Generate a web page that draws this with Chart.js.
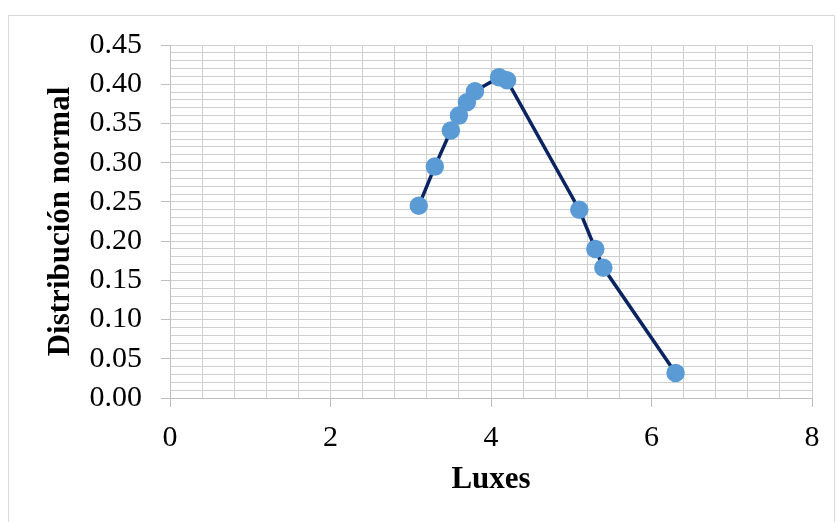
<!DOCTYPE html>
<html>
<head>
<meta charset="utf-8">
<script src="https://cdn.jsdelivr.net/npm/chart.js@4/dist/chart.umd.min.js"></script>
<style>
  html, body { margin: 0; padding: 0; background: #ffffff; }
  #wrap { width: 837px; height: 522px; position: relative; }
</style>
</head>
<body>
<div id="wrap"><canvas id="c" width="837" height="522"></canvas></div>
<script>
// Data
const luxes = [3.1, 3.3, 3.5, 3.6, 3.7, 3.8, 4.1, 4.2, 5.1, 5.3, 5.4, 6.3];
const distribucion = [0.245, 0.295, 0.341, 0.360, 0.377, 0.391, 0.409, 0.405, 0.240, 0.190, 0.166, 0.032];
const xTickLabels = ['0', '2', '4', '6', '8'];
const yTickLabels = ['0.00', '0.05', '0.10', '0.15', '0.20', '0.25', '0.30', '0.35', '0.40', '0.45'];

const points = luxes.map((x, i) => ({ x: x, y: distribucion[i] }));

function isMultiple(v, m) {
  const r = v / m;
  return Math.abs(r - Math.round(r)) < 1e-6;
}

const outerBorder = {
  id: 'outerBorder',
  beforeDraw(chart) {
    const ctx = chart.ctx;
    ctx.save();
    ctx.fillStyle = '#ffffff';
    ctx.fillRect(0, 0, chart.width, chart.height);
    ctx.strokeStyle = '#d9d9d9';
    ctx.lineWidth = 1;
    ctx.strokeRect(8.5, 15.5, 826, 520);
    ctx.restore();
  }
};

const serif = '"Liberation Serif", "Times New Roman", serif';

new Chart(document.getElementById('c'), {
  type: 'scatter',
  data: {
    datasets: [{
      data: points,
      showLine: true,
      borderColor: '#0a2461',
      borderWidth: 3.5,
      pointBackgroundColor: '#5b9bd5',
      pointBorderColor: '#5b9bd5',
      pointRadius: 7.5,
      pointHoverRadius: 7.5,
      tension: 0
    }]
  },
  options: {
    responsive: false,
    animation: false,
    devicePixelRatio: 1,
    layout: { padding: { left: 0, top: 45, right: 25, bottom: 19 } },
    plugins: { legend: { display: false }, tooltip: { enabled: false } },
    scales: {
      x: {
        type: 'linear',
        min: 0,
        max: 8,
        afterFit(scale) { scale.height = 105; },
        border: { color: '#bfbfbf', width: 1 },
        grid: {
          color: '#cfcfcf',
          lineWidth: 1,
          tickLength: 9,
          tickColor: (c) => isMultiple(c.tick.value, 2) ? '#bfbfbf' : 'rgba(0,0,0,0)'
        },
        ticks: {
          stepSize: 0.4,
          autoSkip: false,
          maxRotation: 0,
          padding: 13,
          color: '#000000',
          font: { family: serif, size: 30 },
          callback: (v) => isMultiple(v, 2) ? xTickLabels[Math.round(v / 2)] : ''
        },
        title: {
          display: true,
          text: 'Luxes',
          color: '#000000',
          font: { family: serif, size: 31, weight: 'bold' },
          padding: { top: 4, bottom: 4 }
        }
      },
      y: {
        type: 'linear',
        min: 0,
        max: 0.45,
        afterFit(scale) { scale.width = 170; },
        border: { color: '#bfbfbf', width: 1 },
        grid: {
          color: '#cfcfcf',
          lineWidth: 1,
          tickLength: 9,
          tickColor: (c) => isMultiple(c.tick.value, 0.05) ? '#bfbfbf' : 'rgba(0,0,0,0)'
        },
        ticks: {
          stepSize: 0.01,
          autoSkip: false,
          padding: 19,
          color: '#000000',
          font: { family: serif, size: 30 },
          callback: (v) => isMultiple(v, 0.05) ? yTickLabels[Math.round(v / 0.05)] : ''
        },
        title: {
          display: true,
          text: 'Distribución normal',
          color: '#000000',
          font: { family: serif, size: 31, weight: 'bold' },
          padding: { top: 42, bottom: 4 }
        }
      }
    }
  },
  plugins: [outerBorder]
});
</script>
</body>
</html>
